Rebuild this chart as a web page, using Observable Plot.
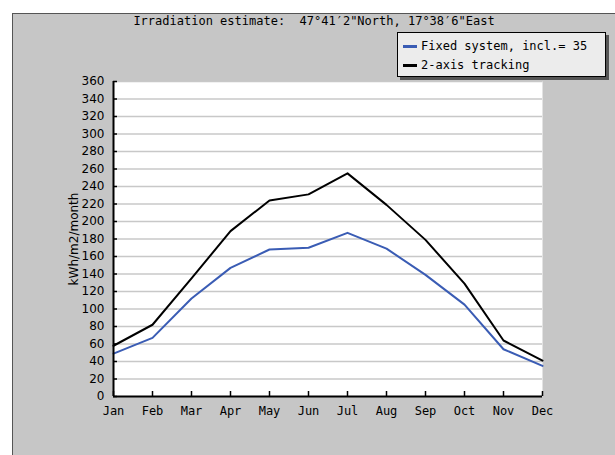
<!DOCTYPE html>
<html><head><meta charset="utf-8">
<script src="https://cdn.jsdelivr.net/npm/d3@7"></script>
<script src="https://cdn.jsdelivr.net/npm/@observablehq/plot@0.6"></script>
<style>
body{margin:0;background:#fff;}
#wrap{position:relative;width:615px;height:455px;overflow:hidden;}
#panel{position:absolute;left:12px;top:13px;width:603px;height:442px;background:#c6c6c6;border-top:1px solid #555;border-left:1px solid #555;}
#chart{position:absolute;left:0;top:0;}
#legend{position:absolute;left:397px;top:32px;width:207px;height:43px;background:#ececec;border:1px solid #000;box-shadow:3px 3px 0 #555;font:12px "DejaVu Sans Mono",monospace;color:#000;}
.row{position:absolute;left:5px;display:flex;align-items:center;height:16px;}
.sw{width:14px;height:3px;margin-right:4px;}
</style></head>
<body>
<div id="wrap"><div id="panel"></div><div id="chart"></div>
<div id="legend"></div></div>
<script>
const months = ["Jan","Feb","Mar","Apr","May","Jun","Jul","Aug","Sep","Oct","Nov","Dec"];
const fixedSystem = [49, 67, 112, 147, 168, 170, 187, 169, 139, 105, 54, 35];
const tracking2axis = [58, 82, 135, 189, 224, 231, 255, 219, 179, 129, 64, 41];
const yTicks = [0,20,40,60,80,100,120,140,160,180,200,220,240,260,280,300,320,340,360];
const seriesNames = ["Fixed system, incl.= 35", "2-axis tracking"];
const seriesColors = ["#3a5cb4", "#000000"];
const titleText = "Irradiation estimate:  47°41′2\"North, 17°38′6\"East";
const yLabel = "kWh/m2/month";

const mono = "DejaVu Sans Mono, monospace";
const chart = Plot.plot({
  width: 615, height: 455,
  marginLeft: 113, marginRight: 73, marginTop: 81, marginBottom: 59,
  x: {type: "point", domain: months, padding: 0},
  y: {domain: [0, 360]},
  style: {background: "transparent", fontFamily: mono, fontSize: "12px", color: "#000"},
  marks: [
    Plot.frame({fill: "white"}),
    Plot.ruleY(yTicks.filter(d => d > 0), {stroke: "#c8c8c8", strokeWidth: 1.5}),
    Plot.axisY({ticks: yTicks, tickSize: 0, tickPadding: 9, label: null, fontSize: 12, fontFamily: "DejaVu Sans, sans-serif"}),
    Plot.axisY({ticks: yTicks, tickSize: 4, dx: 4, tickFormat: () => "", label: null, strokeWidth: 1.5}),
    Plot.axisX({tickSize: 0, tickPadding: 10, label: null, fontSize: 12}),
    Plot.axisX({tickSize: 5, dy: -5, tickFormat: () => "", label: null, strokeWidth: 1.5}),
    Plot.line(months, {x: d => d, y: (d, i) => fixedSystem[i], stroke: seriesColors[0], strokeWidth: 2}),
    Plot.line(months, {x: d => d, y: (d, i) => tracking2axis[i], stroke: seriesColors[1], strokeWidth: 2}),
    Plot.ruleX([months[0]], {stroke: "black", strokeWidth: 2}),
    Plot.ruleY([0], {stroke: "black", strokeWidth: 2}),
    Plot.text([titleText], {frameAnchor: "top", dx: -14, dy: -57, lineAnchor: "bottom", textAnchor: "middle", fontSize: 12, fontFamily: mono}),
    Plot.text([yLabel], {frameAnchor: "left", dx: -39, rotate: -90, textAnchor: "middle", lineAnchor: "middle", fontSize: 12, fontFamily: "DejaVu Sans, sans-serif"})
  ]
});
document.getElementById("chart").appendChild(chart);

const leg = document.getElementById("legend");
seriesNames.forEach((n, i) => {
  const r = document.createElement("div");
  r.className = "row";
  r.style.top = (5 + i * 19) + "px";
  const s = document.createElement("span");
  s.className = "sw"; s.style.background = seriesColors[i];
  const t = document.createElement("span");
  t.textContent = n;
  r.appendChild(s); r.appendChild(t);
  leg.appendChild(r);
});
</script>
</body></html>
